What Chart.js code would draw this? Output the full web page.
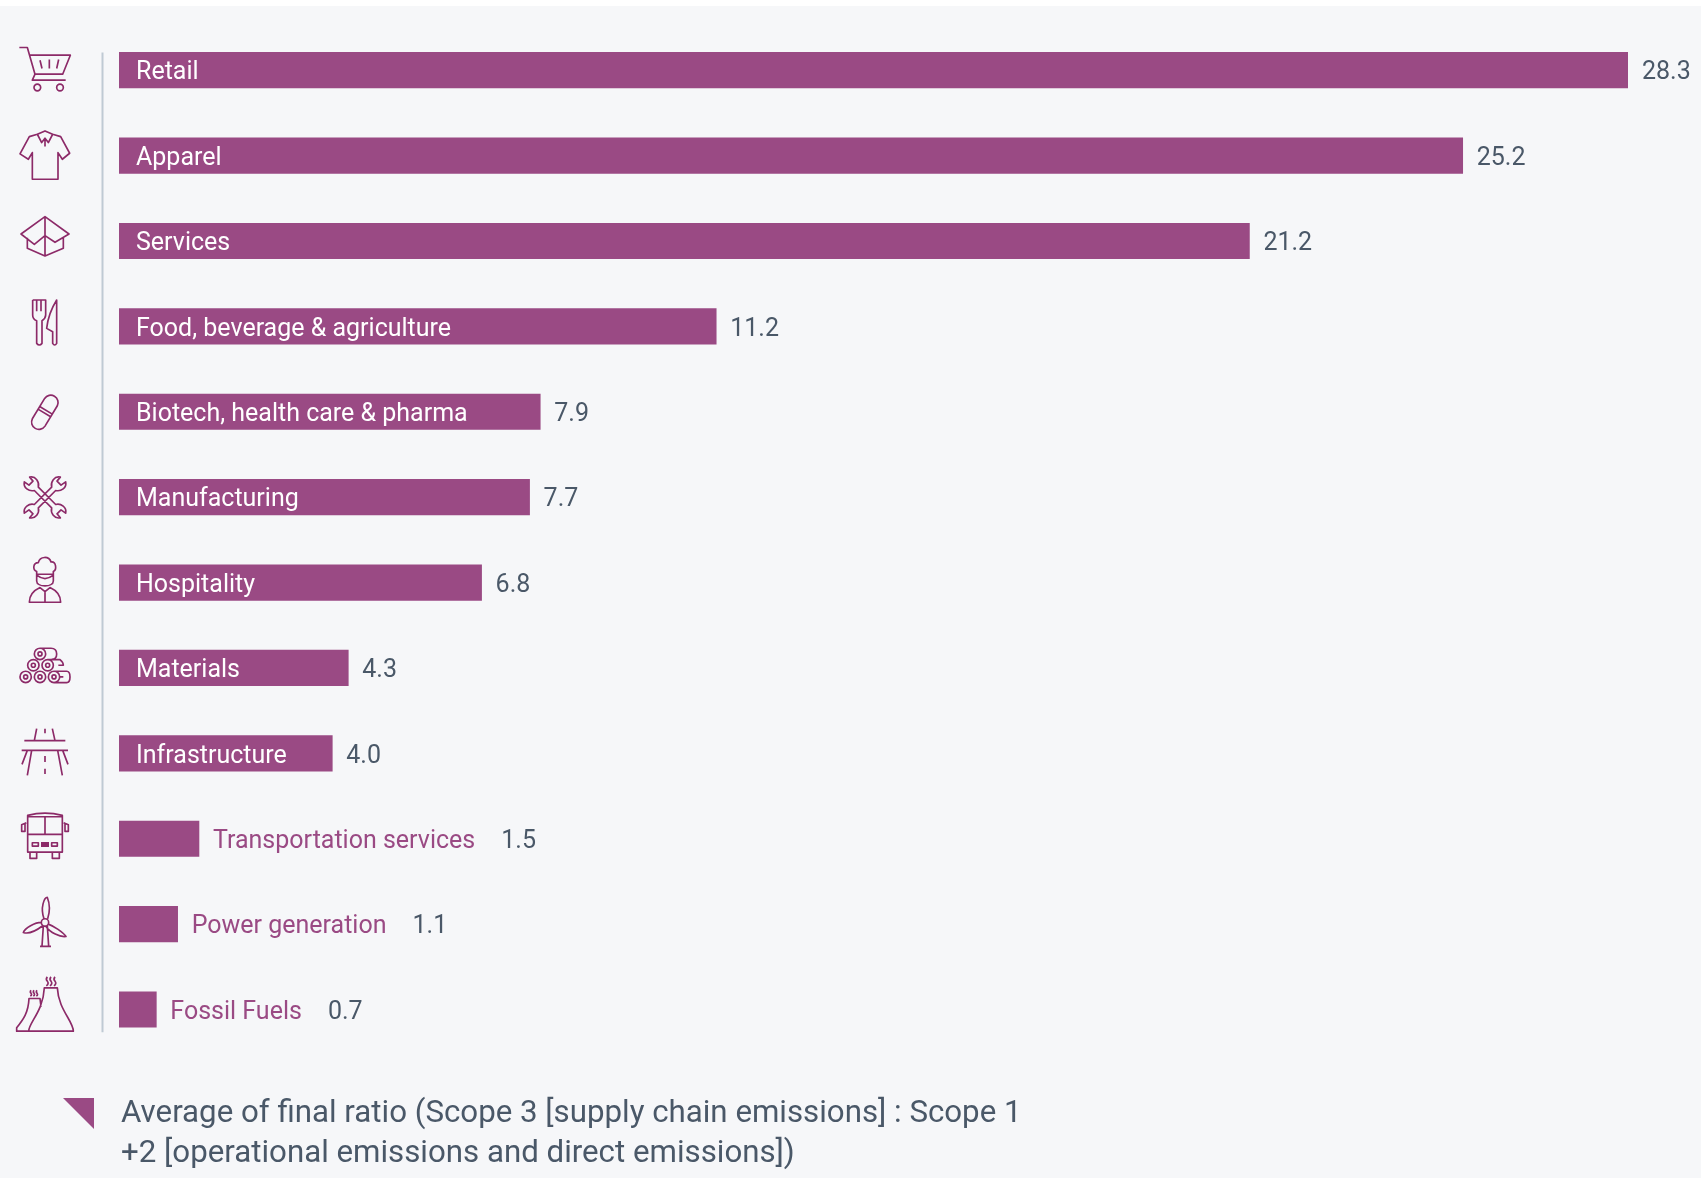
<!DOCTYPE html>
<html>
<head>
<meta charset="utf-8">
<title>Average final ratio by sector</title>
<script src="https://cdn.jsdelivr.net/npm/chart.js@4/dist/chart.umd.min.js"></script>
<style>
  html, body { margin:0; padding:0; background:#fff; }
  #panel { position:absolute; left:0; top:6px; width:1701px; height:1172px; background:#f6f7f9; }
  #wrap { position:absolute; left:0; top:0; width:1701px; height:1178px; }
</style>
</head>
<body>
<div id="panel"></div>
<div id="wrap"><canvas id="ratioChart"></canvas></div>
<script>
const sectors = ['Retail','Apparel','Services','Food, beverage & agriculture','Biotech, health care & pharma','Manufacturing','Hospitality','Materials','Infrastructure','Transportation services','Power generation','Fossil Fuels'];
const ratios = [28.3,25.2,21.2,11.2,7.9,7.7,6.8,4.3,4.0,1.5,1.1,0.7];
const noteLines = ['Average of final ratio (Scope 3 [supply chain emissions] : Scope 1','+2 [operational emissions and direct emissions])'];

const purple = '#9a4a84', iconColor = '#8c2a68', slate = '#4a5868';
const labelFont = '25px Roboto', noteFont = '31.25px Roboto';

// little line icons, one per row, drawn 3x oversize around the row centre
const ring = (x,y,r) => `M${x+r},${y} a${r},${r} 0 1,0 ${-2*r},0 a${r},${r} 0 1,0 ${2*r},0 `;
const logs = [[-15,-42],[-35,-8],[8,-8],[-58,27],[-15,27],[27,27]].map(p => ring(p[0],p[1],17)+ring(p[0],p[1],6)).join('');
const icons = [
  'M-77,-68 H-53 L-30,12 L-38,30 H62 M-47,-45 H76 L53,12 H-30 M-15,-30 L-9,-5 M13,-32 V-5 M41,-32 L35,-5 '+ring(-23,52,10)+ring(45,52,10),
  'M-23,-64 L-47,-57 L-75,-5 L-50,11 L-38,-9 V71 H39 V-9 L52,11 L74,-7 L47,-57 L23,-64 M-23,-64 L0,-74 L23,-64 L10,-39 L0,-52 L-10,-39 Z M0,-52 V-27',
  'M-72,-21 L0,-73 L72,-21 L30,4 L0,-16 L-32,10 Z M-53,-10 V22 L0,45 L55,22 V-10 M0,-73 V45',
  'M-37,-79 V-34 Q-37,-21 -25,-17 V51 Q-17,61 -9,51 V-17 Q2,-24 2,-34 V-79 H-37 M-25,-79 V-45 M-12,-79 V-45 M35,-79 Q10,-39 5,6 L23,16 V51 Q29,61 35,51 Z',
  'M-1,-40 A22,22 0 0 1 37,-18 L0,43 A22,22 0 0 1 -38,21 Z M-21,-8 L17,15 M-16,-16 L22,7',
  'M-46,-60 L-36,-48 L-48,-36 L-62,-46 C-66,-28 -48,-16 -32,-20 L20,32 C16,48 28,66 46,62 L36,50 L48,38 L62,48 C66,30 48,18 32,22 L-20,-30 C-16,-46 -28,-64 -46,-60 Z M46,-60 L36,-48 L48,-36 L62,-46 C66,-28 48,-16 32,-20 L-20,32 C-16,48 -28,66 -46,62 L-36,50 L-48,38 L-62,48 C-66,30 -48,18 -32,22 L20,-30 C16,-46 28,-64 46,-60 Z',
  'M-25,-33 C-38,-38 -36,-60 -20,-60 C-15,-80 12,-80 18,-62 C34,-64 36,-38 25,-33 V-25 H-25 Z M-25,-25 V-5 C-25,15 25,15 25,-5 V-25 M-25,-22 Q0,-2 25,-22 M-47,59 C-47,35 -30,22 -15,15 L0,27 L15,15 C30,22 47,35 47,59 Z M0,27 V59',
  logs+'M-15,-59 H18 Q35,-59 35,-42 Q35,-26 20,-26 M8,-25 H45 Q55,-17 55,-8 H40 M27,10 H65 Q75,10 75,27 Q75,44 65,44 H27 M55,27 H45',
  'M-25,-74 L-32,-38 M22,-74 L30,-38 M0,-74 V-60 M-62,-38 H61 M-70,-9 H69 M-40,-9 L-53,66 M38,-9 L52,66 M-53,-9 L-69,33 M53,-9 L69,33 M0,8 V26 M0,46 V62',
  'M-52,-70 Q0,-84 52,-70 V40 H-52 Z M-52,-66 H52 M-52,-13 H52 M0,-66 V-13 M-56,-48 L-70,-42 V-22 H-60 V-48 M56,-48 L70,-42 V-22 H60 V-48 M-45,40 V59 H-25 V40 M22,40 V59 H43 V40 M-38,12 H-20 V22 H-38 Z M20,12 H37 V22 H20 Z M-12,12 H12 M-12,17 H12 M-12,22 H12',
  ring(0,-5,11)+'M-3,-16 C-15,-50 -2,-80 7,-80 C15,-60 14,-35 8,-16 M-11,-5 C-30,-5 -60,12 -65,25 C-45,32 -20,15 -7,5 M10,0 C25,5 55,25 63,37 C45,40 15,25 3,7 M-5,6 L-9,66 M7,6 L11,66 M-15,67 H18',
  'M-49,65 C-49,40 -5,5 -2,-65 H37 C40,0 85,35 85,65 Z M-49,65 H-85 V55 C-65,30 -50,10 -48,-33 H-15 L-12,-8 M7,-98 q-6,7 0,13 q6,7 -3,14 M18,-98 q-6,7 0,13 q6,7 -3,14 M30,-98 q-6,7 0,13 q6,7 -3,14 M-42,-58 q-4,5 0,9 q4,5 -2,9 M-33,-58 q-4,5 0,9 q4,5 -2,9 M-24,-58 q-4,5 0,9 q4,5 -2,9'
];

// axis rule, row icons and the note under the bars
const furniture = {
  id:'furniture',
  afterDraw(chart) {
    const ctx = chart.ctx, y = chart.scales.y;
    const bars = chart.getDatasetMeta(0).data;
    ctx.save();
    ctx.strokeStyle = '#bfcad4'; ctx.lineWidth = 2;
    ctx.beginPath();
    ctx.moveTo(102.5, bars[0].y - bars[0].height/2);
    ctx.lineTo(102.5, bars[bars.length-1].y + bars[0].height/2 + 5);
    ctx.stroke();

    ctx.strokeStyle = iconColor; ctx.lineWidth = 5; ctx.lineJoin = 'round';
    icons.forEach((d,i) => {
      ctx.save();
      ctx.translate(45, y.getPixelForValue(i));
      ctx.scale(1/3,1/3);
      ctx.stroke(new Path2D(d));
      ctx.restore();
    });

    ctx.fillStyle = purple;
    ctx.beginPath();
    ctx.moveTo(63,1098); ctx.lineTo(94,1098); ctx.lineTo(94,1129); ctx.closePath();
    ctx.fill();

    ctx.fillStyle = slate; ctx.font = noteFont; ctx.textBaseline = 'alphabetic'; ctx.textAlign = 'left';
    ctx.fillText(noteLines[0], 121, 1122);
    ctx.fillText(noteLines[1], 121, 1162);
    ctx.restore();
  }
};

// sector name inside the bar when it fits, otherwise after it, then the value
const barLabels = {
  id:'barLabels',
  afterDatasetsDraw(chart) {
    const ctx = chart.ctx;
    ctx.save();
    ctx.font = labelFont; ctx.textBaseline = 'middle'; ctx.textAlign = 'left';
    chart.getDatasetMeta(0).data.forEach((bar,i) => {
      const w = ctx.measureText(sectors[i]).width, textY = bar.y + 3;
      let valueX = bar.x + 14;
      if (w + 34 < bar.x - bar.base) {
        ctx.fillStyle = '#fff';
        ctx.fillText(sectors[i], bar.base + 17, textY);
      } else {
        ctx.fillStyle = purple;
        ctx.fillText(sectors[i], bar.x + 14, textY);
        valueX = bar.x + 14 + w + 26;
      }
      ctx.fillStyle = slate;
      ctx.fillText(ratios[i].toFixed(1), valueX, textY);
    });
    ctx.restore();
  }
};

new Chart(document.getElementById('ratioChart').getContext('2d'), {
  type:'bar',
  data:{
    labels: sectors,
    datasets:[{ data: ratios, backgroundColor: purple, barThickness:35.5, borderWidth:0 }]
  },
  options:{
    indexAxis:'y', responsive:true, maintainAspectRatio:false, animation:false,
    layout:{padding:{left:119, right:73, top:27.5, bottom:125.8}},
    plugins:{legend:{display:false}, tooltip:{enabled:false}},
    scales:{
      x:{display:false, min:0, max:28.3},
      y:{display:false}
    }
  },
  plugins:[barLabels, furniture]
});
</script>
</body>
</html>
